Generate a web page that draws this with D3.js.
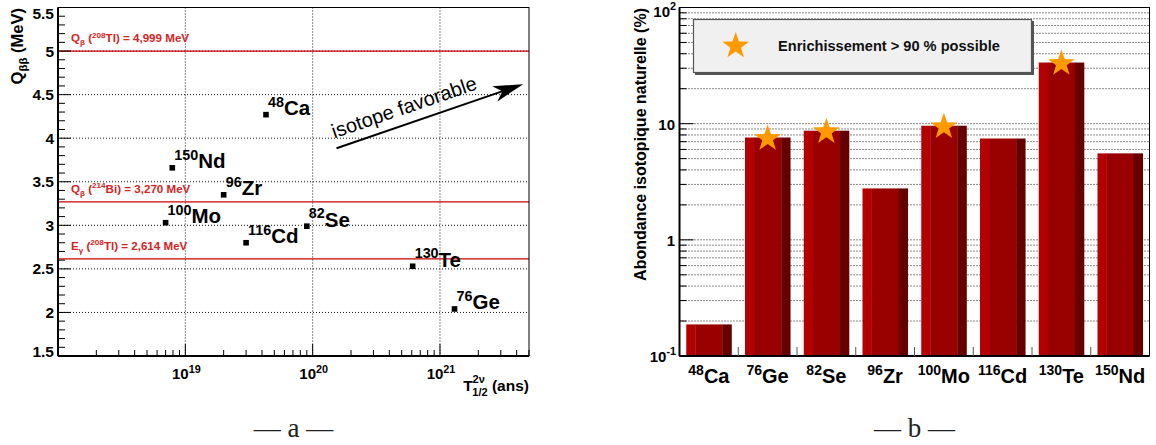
<!DOCTYPE html>
<html><head><meta charset="utf-8">
<script src="https://cdn.jsdelivr.net/npm/d3@7"></script>
<style>body{margin:0;background:#fff}svg{display:block}</style>
</head><body>
<svg id="chart" width="1156" height="445"></svg>
<script>
// ---------- data: panel a ----------
const ptMass = ["48", "150", "96", "100", "116", "82", "130", "76"];
const ptElem = ["Ca", "Nd", "Zr", "Mo", "Cd", "Se", "Te", "Ge"];
const ptHalfLife = [4.3e19, 7.9e18, 2.0e19, 7.0e18, 3.0e19, 9.0e19, 6.1e20, 1.3e21];
const ptQbb = [4.27, 3.66, 3.35, 3.03, 2.80, 2.99, 2.53, 2.04];
const refValues = [4.999, 3.270, 2.614];
const refLabels = [
  [["Q",""],["β","sub"],[" (",""],["208","sup"],["Tl) = 4,999 MeV",""]],
  [["Q",""],["β","sub"],[" (",""],["214","sup"],["Bi) = 3,270 MeV",""]],
  [["E",""],["γ","sub"],[" (",""],["208","sup"],["Tl) = 2,614 MeV",""]]
];
const xTicksA = [1e19, 1e20, 1e21];
const xTickExpA = ["19", "20", "21"];
const yTicksA = [1.5, 2, 2.5, 3, 3.5, 4, 4.5, 5, 5.5];
const arrowFrom = [1.54e20, 3.885];
const arrowTo = [4.5e21, 4.62];
const arrowText = "isotope favorable";

// ---------- data: panel b ----------
const barMass = ["48", "76", "82", "96", "100", "116", "130", "150"];
const barElem = ["Ca", "Ge", "Se", "Zr", "Mo", "Cd", "Te", "Nd"];
const barAbundance = [0.187, 7.6, 8.7, 2.77, 9.6, 7.45, 33.6, 5.55];
const barEnriched = [false, true, true, false, true, false, true, false];
const yTicksB = [0.1, 1, 10, 100];
const yTickLabelsB = [["10","-1"], ["1",""], ["10",""], ["10","2"]];
const legendText = "Enrichissement > 90 % possible";
const captions = ["— a —", "— b —"];

// ---------- setup ----------
const svg = d3.select("#chart");
const FONT = "'Liberation Sans', Arial, Helvetica, sans-serif";
const A = {x0: 58, x1: 529, y0: 7.5, y1: 356};
const B = {x0: 679.5, x1: 1149.5, y0: 7.5, y1: 356};

function rich(g, x, y, segs, size, opts = {}) {
  const t = g.append("text").attr("x", x).attr("y", y)
    .attr("font-family", FONT).attr("font-weight", opts.weight || "bold")
    .attr("font-size", size).attr("fill", opts.fill || "#000")
    .attr("text-anchor", opts.anchor || "start");
  if (opts.transform) t.attr("transform", opts.transform);
  let cur = 0;
  segs.forEach(([txt, kind]) => {
    let off = 0, fs = size;
    if (kind === "sup") { off = -(opts.supRaise || size * 0.42); fs = size * (opts.supScale || 0.7); }
    if (kind === "sub") { off = (opts.subDrop || size * 0.25); fs = size * (opts.subScale || 0.7); }
    t.append("tspan").attr("dy", off - cur).attr("font-size", fs).text(txt);
    cur = off;
  });
  return t;
}

// ================= PANEL A =================
const xA = d3.scaleLog().domain([1e18, 5e21]).range([A.x0, A.x1]);
const yA = d3.scaleLinear().domain([1.5, 5.5]).range([A.y1, A.y0]);
const gA = svg.append("g");

// grid
gA.selectAll(".gx").data(xTicksA).join("line")
  .attr("x1", d => xA(d)).attr("x2", d => xA(d)).attr("y1", A.y0).attr("y2", A.y1)
  .attr("stroke", "#111").attr("stroke-width", 1).attr("stroke-dasharray", "1,2");
gA.selectAll(".gy").data(yTicksA.slice(1, -1)).join("line")
  .attr("x1", A.x0).attr("x2", A.x1).attr("y1", d => yA(d)).attr("y2", d => yA(d))
  .attr("stroke", "#111").attr("stroke-width", 1).attr("stroke-dasharray", "1,2");

// reference lines
gA.selectAll(".ref").data(refValues).join("line")
  .attr("x1", A.x0).attr("x2", A.x1).attr("y1", d => yA(d)).attr("y2", d => yA(d))
  .attr("stroke", "#cc0000").attr("stroke-width", 1.3);
refValues.forEach((v, i) => {
  rich(gA, 71, yA(v) - 9, refLabels[i], 11.6, {fill: "#d42424", supRaise: 4.5, subDrop: 3});
});

// frame
gA.append("rect").attr("x", A.x0).attr("y", A.y0).attr("width", A.x1 - A.x0).attr("height", A.y1 - A.y0)
  .attr("fill", "none").attr("stroke", "#000").attr("stroke-width", 1);
gA.append("line").attr("x1", A.x0).attr("x2", A.x0).attr("y1", A.y0).attr("y2", A.y1).attr("stroke", "#000").attr("stroke-width", 2);
gA.append("line").attr("x1", A.x0).attr("x2", A.x1).attr("y1", A.y1).attr("y2", A.y1).attr("stroke", "#000").attr("stroke-width", 2);

// y ticks
const yMinorA = d3.range(15, 56).map(d => d / 10);
gA.selectAll(".yt").data(yMinorA).join("line")
  .attr("x1", A.x0).attr("x2", d => A.x0 + (Math.abs(d * 2 - Math.round(d * 2)) < 1e-6 ? 13 : 7))
  .attr("y1", d => yA(d)).attr("y2", d => yA(d)).attr("stroke", "#000").attr("stroke-width", 1);
gA.selectAll(".yl").data(yTicksA).join("text")
  .attr("x", 54).attr("y", d => Math.min(Math.max(yA(d) + 5.5, 18.5), 356.7))
  .attr("text-anchor", "end").attr("font-family", FONT).attr("font-weight", "bold").attr("font-size", 15.5)
  .text(d => String(d));

// x ticks
const xMinorA = [];
for (let e = 18; e <= 21; e++) for (let m = 1; m <= 9; m++) { const v = m * Math.pow(10, e); if (v <= 5e21) xMinorA.push({v, major: m === 1}); }
gA.selectAll(".xt").data(xMinorA).join("line")
  .attr("x1", d => xA(d.v)).attr("x2", d => xA(d.v)).attr("y1", A.y1).attr("y2", d => A.y1 - (d.major ? 12 : 6))
  .attr("stroke", "#000").attr("stroke-width", 1);
xTicksA.forEach((v, i) => {
  rich(gA, xA(v) + 1, 379, [["10", ""], [xTickExpA[i], "sup"]], 15, {anchor: "middle", supRaise: 6.5, supScale: 0.72});
});

// axis titles
{
  const t = gA.append("text").attr("y", 391).attr("font-family", FONT).attr("font-weight", "bold").attr("font-size", 15.5).attr("text-anchor", "end").attr("x", A.x1);
  t.append("tspan").text("T");
  t.append("tspan").attr("font-size", 11).attr("dy", -8).text("2ν");
  t.append("tspan").attr("font-size", 11).attr("dy", 13).attr("dx", -12.5).text("1/2");
  t.append("tspan").attr("dy", -5).text(" (ans)");
}
rich(gA, 0, 0, [["Q", ""], ["ββ", "sub"], [" (MeV)", ""]], 16.5,
  {anchor: "end", subDrop: 4, transform: "translate(23,8) rotate(-90)"});

// arrow
{
  const p0 = [xA(arrowFrom[0]), yA(arrowFrom[1])], p1 = [xA(arrowTo[0]), yA(arrowTo[1])];
  const ang = Math.atan2(p1[1] - p0[1], p1[0] - p0[0]);
  const deg = ang * 180 / Math.PI;
  const len = Math.hypot(p1[0] - p0[0], p1[1] - p0[1]);
  const ga = gA.append("g").attr("transform", `translate(${p0[0]},${p0[1]}) rotate(${deg})`);
  ga.append("line").attr("x1", 0).attr("y1", 0).attr("x2", len - 20).attr("y2", 0).attr("stroke", "#000").attr("stroke-width", 2);
  ga.append("path").attr("d", `M${len},0 L${len - 30},-8 L${len - 22},0 L${len - 30},8 Z`).attr("fill", "#000");
  ga.append("text").attr("x", 1).attr("y", -10).attr("font-family", FONT).attr("font-size", 20).attr("fill", "#000").text(arrowText);
}

// points
const pts = ptElem.map((e, i) => ({m: ptMass[i], e, x: ptHalfLife[i], y: ptQbb[i]}));
gA.selectAll(".pt").data(pts).join("rect")
  .attr("x", d => xA(d.x) - 2.8).attr("y", d => yA(d.y) - 2.8).attr("width", 5.6).attr("height", 5.6).attr("fill", "#000");
pts.forEach(d => {
  rich(gA, xA(d.x) + 2, yA(d.y) + 0.5, [[d.m, "sup"], [d.e, ""]], 20.5, {supRaise: 8.5, supScale: 0.7});
});

// ================= PANEL B =================
const xB = d3.scaleBand().domain(barElem).range([B.x0, B.x1]).paddingInner(0.23).paddingOuter(0.115);
const yB = d3.scaleLog().domain([0.1, 100]).range([B.y1, B.y0]);
const gB = svg.append("g");

// grid at all log ticks
const logTicksB = [];
for (let e = -1; e <= 1; e++) for (let m = 1; m <= 9; m++) logTicksB.push({v: m * Math.pow(10, e), major: m === 1});
logTicksB.push({v: 100, major: true});
gB.selectAll(".gy").data(logTicksB.filter(d => d.v > 0.1 && d.v < 100)).join("line")
  .attr("x1", B.x0).attr("x2", B.x1).attr("y1", d => yB(d.v)).attr("y2", d => yB(d.v))
  .attr("stroke", "#111").attr("stroke-width", 1).attr("stroke-dasharray", "1,2");

// bars
const bars = barElem.map((e, i) => ({e, m: barMass[i], v: barAbundance[i], star: barEnriched[i]}));
const shades = [[0, 0.2, "#b30000"], [0.2, 0.8, "#990000"], [0.8, 1, "#660000"]];
const gBars = gB.selectAll(".bar").data(bars).join("g");
shades.forEach(([a, b, c]) => {
  gBars.append("rect")
    .attr("x", d => xB(d.e) + a * xB.bandwidth()).attr("width", (b - a) * xB.bandwidth() + 0.3)
    .attr("y", d => yB(d.v)).attr("height", d => B.y1 - yB(d.v)).attr("fill", c);
});

// star path
function starPath(R, r) {
  let p = "";
  for (let k = 0; k < 10; k++) {
    const rad = k % 2 ? r : R;
    const a = -Math.PI / 2 + k * Math.PI / 5;
    p += (k ? "L" : "M") + (rad * Math.cos(a)).toFixed(2) + "," + (rad * Math.sin(a)).toFixed(2);
  }
  return p + "Z";
}
gB.selectAll(".star").data(bars.filter(d => d.star)).join("path")
  .attr("d", starPath(14, 5.6))
  .attr("transform", d => `translate(${xB(d.e) + xB.bandwidth() / 2},${yB(d.v) + 1})`)
  .attr("fill", "#ff9900");

// frame
gB.append("rect").attr("x", B.x0).attr("y", B.y0).attr("width", B.x1 - B.x0).attr("height", B.y1 - B.y0)
  .attr("fill", "none").attr("stroke", "#000").attr("stroke-width", 1);
gB.append("line").attr("x1", B.x0).attr("x2", B.x0).attr("y1", B.y0).attr("y2", B.y1).attr("stroke", "#000").attr("stroke-width", 2);
gB.append("line").attr("x1", B.x0).attr("x2", B.x1).attr("y1", B.y1).attr("y2", B.y1).attr("stroke", "#000").attr("stroke-width", 2);

// y ticks
gB.selectAll(".yt").data(logTicksB).join("line")
  .attr("x1", B.x0).attr("x2", d => B.x0 + (d.major ? 14 : 7))
  .attr("y1", d => yB(d.v)).attr("y2", d => yB(d.v)).attr("stroke", "#000").attr("stroke-width", 1);
yTicksB.forEach((v, i) => {
  const [base, ex] = yTickLabelsB[i];
  const y = Math.max(yB(v) + 6, 16.7);
  if (ex) rich(gB, 676, y, [[base, ""], [ex, "sup"]], 15, {anchor: "end", supRaise: 7, supScale: 0.72});
  else rich(gB, 675, y, [[base, ""]], 15, {anchor: "end"});
});

// x ticks at band boundaries
const bounds = barElem.slice(1).map(e => xB(e) - xB.step() * xB.paddingInner() / 2);
gB.selectAll(".xt").data(bounds).join("line")
  .attr("x1", d => d).attr("x2", d => d).attr("y1", B.y1).attr("y2", B.y1 - 9)
  .attr("stroke", "#555").attr("stroke-width", 1);
bars.forEach(d => {
  rich(gB, xB(d.e) + xB.bandwidth() / 2, 383, [[d.m, "sup"], [d.e, ""]], 20, {anchor: "middle", supRaise: 8, supScale: 0.7});
});

// y title
gB.append("text").attr("transform", "translate(646,8) rotate(-90)")
  .attr("text-anchor", "end").attr("font-family", FONT).attr("font-weight", "bold").attr("font-size", 16)
  .text("Abondance isotopique naturelle (%)");

// legend
gB.append("rect").attr("x", 695).attr("y", 21).attr("width", 339).attr("height", 54).attr("fill", "#555");
gB.append("rect").attr("x", 693.5).attr("y", 19.5).attr("width", 338).attr("height", 53).attr("fill", "#f0f0f0")
  .attr("stroke", "#555").attr("stroke-width", 1.2);
gB.append("path").attr("d", starPath(14, 5.6)).attr("transform", "translate(735.7,46)").attr("fill", "#ff9900");
gB.append("text").attr("x", 778).attr("y", 51).attr("font-family", FONT).attr("font-weight", "bold").attr("font-size", 14.6)
  .attr("fill", "#111").text(legendText);

// captions
svg.selectAll(".cap").data(captions).join("text")
  .attr("x", (d, i) => i === 0 ? (A.x0 + A.x1) / 2 : (B.x0 + B.x1) / 2).attr("y", 437)
  .attr("text-anchor", "middle").attr("font-family", "'Liberation Serif', 'DejaVu Serif', serif").attr("font-size", 27)
  .attr("fill", "#222").text(d => d);
</script>
</body></html>
